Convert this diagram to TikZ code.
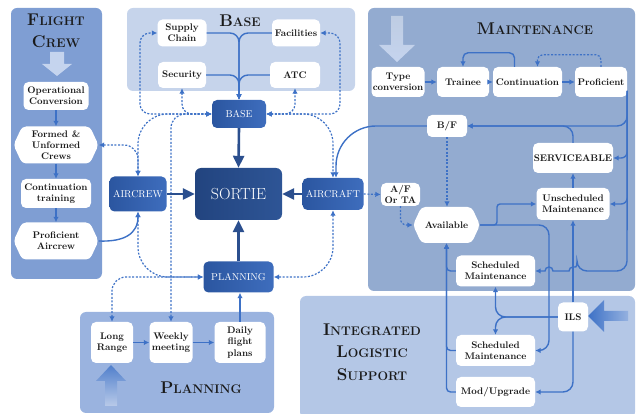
\documentclass[tikz,border=0pt]{standalone}
\usetikzlibrary{arrows.meta,shapes.symbols,calc}
\definecolor{fcpanel}{HTML}{7F9ED3}
\definecolor{basepanel}{HTML}{C6D4EB}
\definecolor{maintpanel}{HTML}{93ABD0}
\definecolor{ilspanel}{HTML}{B4C7E6}
\definecolor{planpanel}{HTML}{9AB3DF}
\definecolor{lnc}{HTML}{3D71C6}
\definecolor{dkA}{HTML}{2B56A0}
\definecolor{dkB}{HTML}{3E6DBD}
\definecolor{srA}{HTML}{22447F}
\definecolor{srB}{HTML}{2E5596}
\definecolor{thkc}{HTML}{2B4F8E}
\definecolor{txt}{HTML}{1A1A1A}
\definecolor{lightarr}{HTML}{C5D4EE}
\newcommand{\SCt}[2]{{\fontsize{17}{17}\selectfont #1}{\fontsize{12.5}{12.5}\selectfont #2}}
\begin{document}
\begin{tikzpicture}[x=1pt,y=-1pt,
  wbox/.style={fill=white, rounded corners=5pt, align=center, text=txt,
    font=\fontsize{9.6}{11.2}\selectfont\bfseries, inner sep=0pt},
  hexbox/.style={signal, signal to=east and west, signal pointer angle=130,
    fill=white, rounded corners=4pt, align=center, text=txt,
    font=\fontsize{9.6}{11.2}\selectfont\bfseries, inner sep=1pt},
  dnode/.style={left color=dkA, right color=dkB, rounded corners=5pt, text=white,
    font=\fontsize{10}{12}\selectfont, inner sep=0pt},
  ttl/.style={text=txt, font=\bfseries, inner sep=0pt, align=center},
  sl/.style={draw=lnc, line width=1.4pt, -{Latex[length=5.5pt,width=5.5pt]}},
  dl/.style={draw=lnc, line width=1.2pt, dash pattern=on 2pt off 1.6pt, -{Latex[length=5.5pt,width=5.5pt]}},
  bi/.style={{Latex[length=5.5pt,width=5.5pt]}-{Latex[length=5.5pt,width=5.5pt]}},
  thk/.style={draw=thkc, line width=2.6pt, -{Triangle[length=12pt,width=11pt]}}
]
\useasboundingbox (0,0) rectangle (638,414);

% ---------- panels ----------
\fill[fcpanel, rounded corners=6pt] (11,8) rectangle (102,279);
\fill[basepanel, rounded corners=6pt] (127,8) rectangle (355,91);
\fill[maintpanel, rounded corners=6pt] (368,8) rectangle (635,291);
\fill[ilspanel, rounded corners=6pt] (300,296) rectangle (635,418);
\fill[planpanel, rounded corners=6pt] (80,312) rectangle (274,413);

% ---------- big arrows ----------
\fill[lightarr] (50,52)--(64,52)--(64,64)--(72,64)--(57,76)--(42,64)--(50,64)--cycle;
\shade[top color=maintpanel!60!white, bottom color=lightarr] (391,16)--(403,16)--(403,45)--(415,45)--(397,62)--(379,45)--(391,45)--cycle;
\shade[top color=lnc!90, bottom color=planpanel!70!white] (105,406)--(117,406)--(117,381)--(126,381)--(111,365)--(96,381)--(105,381)--cycle;
\shade[left color=lnc, right color=lnc!55!white] (628,311)--(604,311)--(604,300)--(588,316)--(604,332)--(604,321)--(628,321)--cycle;

% ---------- titles ----------
\node[ttl] (tfc1) at (56,20) {\SCt{F}{LIGHT}};
\node[ttl] (tfc2) at (56,42) {\SCt{C}{REW}};
\node[ttl] (tbase) at (240,21) {\SCt{B}{ASE}};
\node[ttl] (tmaint) at (535,29) {\SCt{M}{AINTENANCE}};
\node[ttl, font=\fontsize{12.5}{22.5}\selectfont\bfseries] (tils) at (372,352) {\SCt{I}{NTEGRATED}\\\SCt{L}{OGISTIC}\\\SCt{S}{UPPORT}};
\node[ttl] (tplan) at (201,388) {\SCt{P}{LANNING}};

% ---------- flight crew ----------
\node[wbox, minimum width=65, minimum height=28] (opc) at (56,96) {Operational\\Conversion};
\node[hexbox, minimum width=85, minimum height=37] (fuc) at (56,145) {Formed \&\\Unformed\\Crews};
\node[wbox, minimum width=70, minimum height=29] (ctr) at (56,193.5) {Continuation\\training};
\node[hexbox, minimum width=85, minimum height=37] (pac) at (56,241) {Proficient\\Aircrew};

% ---------- base ----------
\node[wbox, minimum width=49, minimum height=27] (sup) at (182,33) {Supply\\Chain};
\node[wbox, minimum width=48, minimum height=27] (fac) at (296,33) {Facilities};
\node[wbox, minimum width=48, minimum height=26] (sec) at (182,75) {Security};
\node[wbox, minimum width=50, minimum height=26] (atc) at (295,75) {ATC};

% ---------- centre ----------
\node[dnode, minimum width=54, minimum height=28] (base) at (239,114) {BASE};
\node[left color=srA, right color=srB, rounded corners=6pt, text=white, font=\fontsize{16}{18}\selectfont, minimum width=87, minimum height=52, inner sep=0pt] (sortie) at (238.5,194) {SORTIE};
\node[dnode, minimum width=57, minimum height=35] (aircrew) at (138,194) {AIRCREW};
\node[dnode, minimum width=61, minimum height=32] (aircraft) at (333,194) {AIRCRAFT};
\node[dnode, minimum width=70, minimum height=31] (plan) at (238.5,277) {PLANNING};

% ---------- planning ----------
\node[wbox, minimum width=42, minimum height=41] (lr) at (112,342.5) {Long\\Range};
\node[wbox, minimum width=43, minimum height=41] (wkm) at (171,342.5) {Weekly\\meeting};
\node[wbox, minimum width=51, minimum height=41] (dfp) at (240,342.5) {Daily\\flight\\plans};

% ---------- maintenance ----------
\node[wbox, minimum width=53, minimum height=30] (tc) at (398,82) {Type\\conversion};
\node[wbox, minimum width=52, minimum height=30] (tr) at (463,82) {Trainee};
\node[wbox, minimum width=69, minimum height=30] (cont) at (527.5,82) {Continuation};
\node[wbox, minimum width=52, minimum height=30] (prof) at (601,82) {Proficient};
\node[wbox, minimum width=40, minimum height=22] (bf) at (447,126) {B/F};
\node[wbox, minimum width=80, minimum height=30] (serv) at (573,158) {SERVICEABLE};
\node[wbox, minimum width=73, minimum height=32] (unsch) at (573,204) {Unscheduled\\Maintenance};
\node[wbox, minimum width=39, minimum height=23] (afta) at (400.5,194.5) {A/F\\Or TA};
\node[hexbox, minimum width=67, minimum height=36] (avail) at (446.5,225) {Available};
\node[wbox, minimum width=79, minimum height=31] (sch1) at (495.5,271) {Scheduled\\Maintenance};

% ---------- ILS ----------
\node[wbox, minimum width=30, minimum height=29] (ils) at (573,317) {ILS};
\node[wbox, minimum width=79, minimum height=31] (sch2) at (495.5,350.5) {Scheduled\\Maintenance};
\node[wbox, minimum width=79, minimum height=30] (mod) at (495.5,392) {Mod/Upgrade};

\coordinate (pe) at ([yshift=-9pt]prof.east);

% ---------- connectors: flight crew ----------
\draw[sl] (opc.south) -- (fuc.north);
\draw[sl] (fuc.south) -- (ctr.north);
\draw[sl] (ctr.south) -- (pac.north);
\draw[sl] (pac.east) .. controls (124,242) and (138,234) .. (aircrew.south);

% ---------- connectors: base ----------
\draw[sl, rounded corners=9pt] (sup.east) -| (base.north);
\draw[sl, rounded corners=9pt] (fac.west) -| (base.north);
\draw[sl, rounded corners=9pt] (sec.east) -| (base.north);
\draw[sl, rounded corners=9pt] (atc.west) -| (base.north);

% dotted links round BASE
\draw[dl, bi, rounded corners=10pt] (base.west) -| (140,33) -- (sup.west);
\draw[dl, bi, rounded corners=10pt] (base.west) -| (sec.south);
\draw[dl, bi, rounded corners=10pt] (base.east) -| (340,33) -- (fac.east);
\draw[dl, bi, rounded corners=10pt] (base.east) -| (atc.south);
\draw[dl, bi, rounded corners=30pt] (base.west) -| (aircrew.north);
\draw[dl, bi, rounded corners=14pt] (fuc.east) -| (aircrew.north);
\draw[dl, bi, rounded corners=14pt] (base.west) -| (wkm.north);
\draw[dl, bi, rounded corners=30pt] (aircrew.south) |- (plan.west);
\draw[dl, bi, rounded corners=14pt] (lr.north) |- (plan.west);
\draw[dl, bi, rounded corners=30pt] (base.east) -| (aircraft.north);
\draw[dl, bi, rounded corners=30pt] (aircraft.south) |- (plan.east);

% thick arrows into SORTIE
\draw[thk] (aircrew.east) -- (sortie.west);
\draw[thk] (base.south) -- (sortie.north);
\draw[thk] (plan.north) -- (sortie.south);
\draw[thk] (aircraft.west) -- (sortie.east);

% planning
\draw[sl] (lr.east) -- (wkm.west);
\draw[sl] (wkm.east) -- (dfp.west);
\draw[sl] (dfp.north) -- (dfp.north |- plan.south);

% ---------- connectors: maintenance ----------
\draw[sl] (tc.east) -- (tr.west);
\draw[sl] (tr.east) -- (cont.west);
\draw[sl] (cont.east) -- (prof.west);
\draw[sl, rounded corners=5pt] ([xshift=-13pt]cont.north) -- ++(0,-14) -| (tr.north);
\draw[dl, rounded corners=5pt] (prof.north) -- ++(0,-12) -| ([xshift=10pt]cont.north);

\draw[sl, rounded corners=40pt] (bf.west) -| ([xshift=3pt]aircraft.north);
\draw[sl, rounded corners=10pt] (pe) |- (bf.east);
\draw[sl, rounded corners=6pt] (pe) |- (serv.east);
\draw[sl, rounded corners=6pt] (pe) |- (unsch.east);
\draw[sl] (pe) [rounded corners=10pt] -- (627,271) -- (577,271) [sharp corners]
   arc[start angle=0, end angle=180, radius=4pt] -- (553,271)
   arc[start angle=0, end angle=180, radius=4pt] -- (sch1.east);
\draw[sl, rounded corners=10pt] (serv.north) |- (bf.east);
\draw[sl] (unsch.north) -- (serv.south);

\draw[dl] (aircraft.east) -- (afta.west);
\draw[dl, rounded corners=6pt] (afta.south) |- (avail.west);
\draw[dl] (bf.south) -- (bf.south |- avail.north);

\draw[sl, rounded corners=3pt] (avail.east) -- (497,225) |- (unsch.west);
\draw[sl, rounded corners=10pt] (avail.east) -| (549,350.5) -- (sch2.east);

\draw[sl, rounded corners=4pt] (sch1.west) -| (avail.south);
\draw[sl, rounded corners=4pt] (sch2.west) -| (avail.south);
\draw[sl, rounded corners=4pt] (mod.west) -| (avail.south);

\draw[sl] (ils.north) -- (ils.north |- unsch.south);
\draw[sl, rounded corners=10pt] (ils.west) -| (sch1.south);
\draw[sl, rounded corners=10pt] (ils.west) -| (sch2.north);
\draw[sl, rounded corners=10pt] (ils.south) |- (mod.east);

\end{tikzpicture}
\end{document}
